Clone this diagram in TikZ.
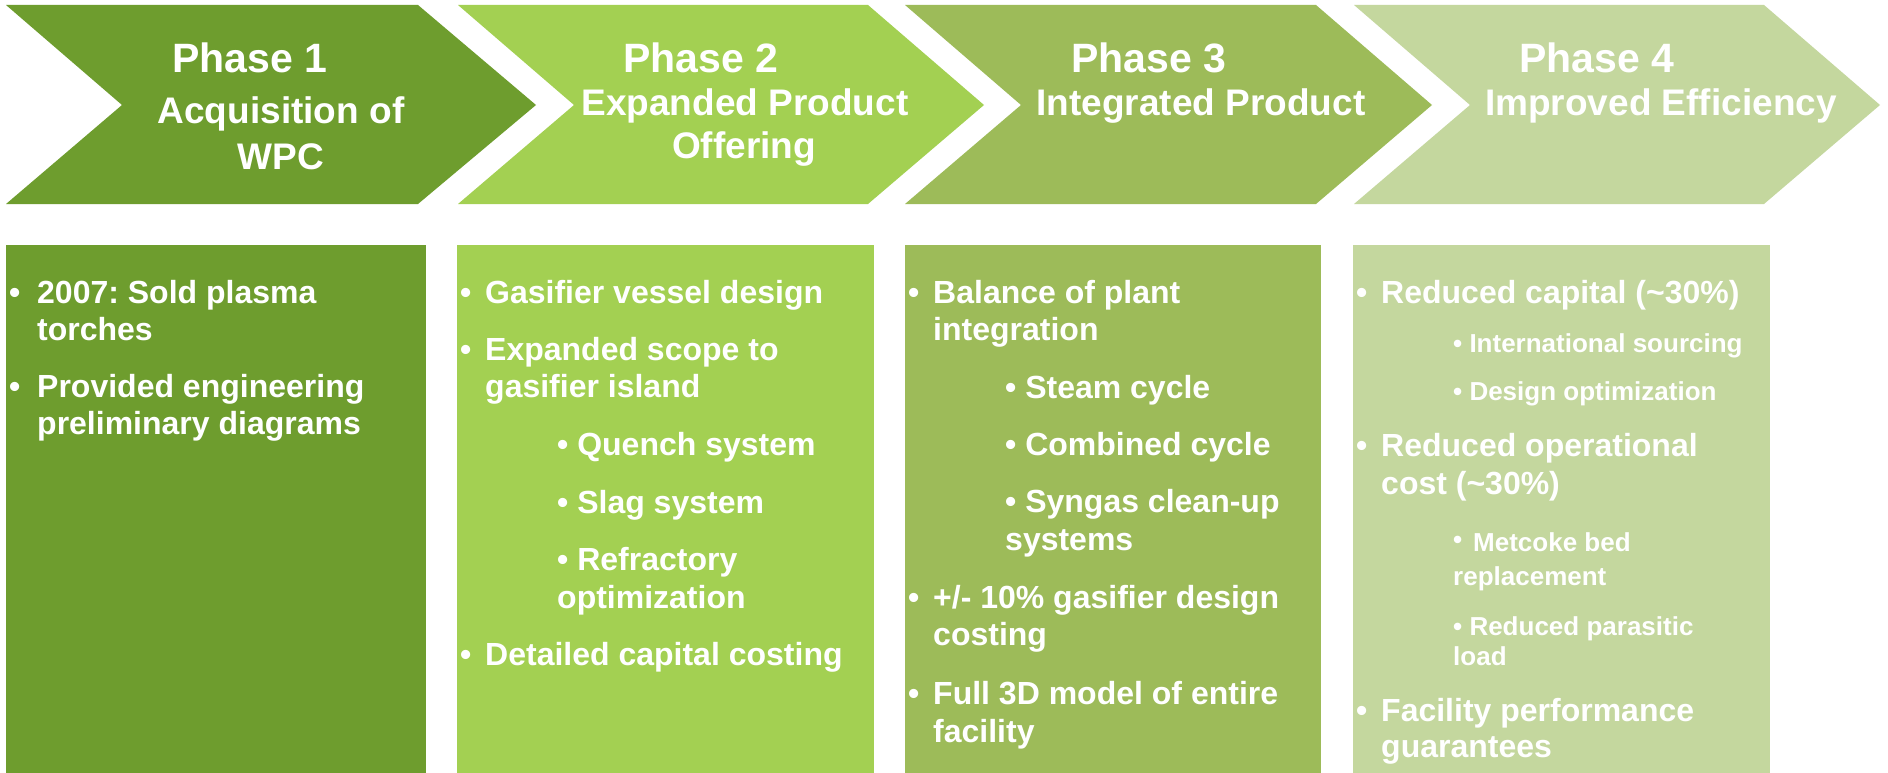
\documentclass[tikz,border=0pt]{standalone}
\usepackage{fontspec}
\setmainfont{Liberation Sans}
\frenchspacing
\definecolor{cA}{RGB}{110,157,46}
\definecolor{cB}{RGB}{163,208,82}
\definecolor{cC}{RGB}{157,187,89}
\definecolor{cD}{RGB}{196,215,158}
\tikzset{
  ttl/.style={font=\fontsize{41}{48}\selectfont\bfseries, text=white, inner sep=0pt, anchor=base},
  subttl/.style={font=\fontsize{37}{44}\selectfont\bfseries, text=white, inner sep=0pt, anchor=base},
  txt/.style={font=\fontsize{32}{38}\selectfont\bfseries, text=white, inner sep=0pt, anchor=base west},
  sml/.style={font=\fontsize{26}{31}\selectfont\bfseries, text=white, inner sep=0pt, anchor=base west},
}
\begin{document}
\begin{tikzpicture}[x=1pt,y=-1pt]
\useasboundingbox (0,0) rectangle (1888,773);
\fill[white] (0,0) rectangle (1888,773);
% chevrons
\fill[cA] (6,5) -- (418,5) -- (536,105) -- (418,204) -- (6,204) -- (122,105) -- cycle;
\fill[cB] (458,5) -- (868,5) -- (984,105) -- (868,204) -- (458,204) -- (574,105) -- cycle;
\fill[cC] (905,5) -- (1316,5) -- (1432,105) -- (1316,204) -- (905,204) -- (1021,105) -- cycle;
\fill[cD] (1354,5) -- (1764,5) -- (1880,105) -- (1764,204) -- (1354,204) -- (1470,105) -- cycle;
% boxes
\fill[cA] (6,245) rectangle (426,773);
\fill[cB] (457,245) rectangle (874,773);
\fill[cC] (905,245) rectangle (1321,773);
\fill[cD] (1353,245) rectangle (1770,773);
% titles
\node[ttl] (t1) at (250,73) {Phase 1};
\node[subttl] (s1a) at (281,124) {Acquisition of};
\node[subttl] (s1b) at (281,170) {WPC};
\node[ttl] (t2) at (701,73) {Phase 2};
\node[subttl] (s2a) at (745,116) {Expanded Product};
\node[subttl] (s2b) at (744,159) {Offering};
\node[ttl] (t3) at (1149,73) {Phase 3};
\node[subttl] (s3a) at (1201,116) {Integrated Product};
\node[ttl] (t4) at (1597,73) {Phase 4};
\node[subttl] (s4a) at (1661,116) {Improved Efficiency};
% box 1
\node[txt] (p1u1) at (9,303) {•};
\node[txt] (p1a) at (37,303) {2007: Sold plasma};
\node[txt] (p1b) at (37,340) {torches};
\node[txt] (p1u2) at (9,397) {•};
\node[txt] (p1c) at (37,397) {Provided engineering};
\node[txt] (p1d) at (37,434) {preliminary diagrams};
% box 2
\node[txt] (p2u1) at (460,303) {•};
\node[txt] (p2a) at (485,303) {Gasifier vessel design};
\node[txt] (p2u2) at (460,360) {•};
\node[txt] (p2b) at (485,360) {Expanded scope to};
\node[txt] (p2c) at (485,397) {gasifier island};
\node[txt] (p2d) at (557,455) {• Quench system};
\node[txt] (p2e) at (557,513) {• Slag system};
\node[txt] (p2f) at (557,570) {• Refractory};
\node[txt] (p2g) at (557,608) {optimization};
\node[txt] (p2u3) at (460,665) {•};
\node[txt] (p2h) at (485,665) {Detailed capital costing};
% box 3
\node[txt] (p3u1) at (908,303) {•};
\node[txt] (p3a) at (933,303) {Balance of plant};
\node[txt] (p3b) at (933,340) {integration};
\node[txt] (p3c) at (1005,398) {• Steam cycle};
\node[txt] (p3d) at (1005,455) {• Combined cycle};
\node[txt] (p3e) at (1005,512) {• Syngas clean-up};
\node[txt] (p3f) at (1005,550) {systems};
\node[txt] (p3u2) at (908,608) {•};
\node[txt] (p3g) at (933,608) {+/- 10\% gasifier design};
\node[txt] (p3h) at (933,645) {costing};
\node[txt] (p3u3) at (908,704) {•};
\node[txt] (p3i) at (933,704) {Full 3D model of entire};
\node[txt] (p3j) at (933,742) {facility};
% box 4
\node[txt] (p4u1) at (1356,303) {•};
\node[txt] (p4a) at (1381,303) {Reduced capital (\textasciitilde30\%)};
\node[sml] (p4b) at (1453,352) {• International sourcing};
\node[sml] (p4c) at (1453,400) {• Design optimization};
\node[txt] (p4u2) at (1356,456) {•};
\node[txt] (p4d) at (1381,456) {Reduced operational};
\node[txt] (p4e) at (1381,494) {cost (\textasciitilde30\%)};
\node[sml] (p4fu) at (1453,548) {•};
\node[sml] (p4f) at (1473,551) {Metcoke bed};
\node[sml] (p4g) at (1453,585) {replacement};
\node[sml] (p4h) at (1453,635) {• Reduced parasitic};
\node[sml] (p4i) at (1453,665) {load};
\node[txt] (p4u3) at (1356,721) {•};
\node[txt] (p4j) at (1381,721) {Facility performance};
\node[txt] (p4k) at (1381,757) {guarantees};
\end{tikzpicture}
\end{document}
